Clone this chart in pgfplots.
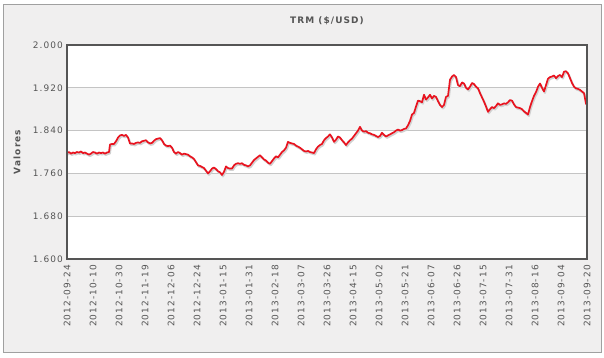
\documentclass[border=0pt]{standalone}
\usepackage{fontspec}
\setmainfont{DejaVu Sans}
\newfontfamily\lsfont[LetterSpace=12]{DejaVu Sans}
\usepackage{pgfplots}
\pgfplotsset{compat=1.18}
\definecolor{bgcol}{HTML}{F0EFEF}
\definecolor{bordercol}{HTML}{A0A0A0}
\definecolor{framecol}{HTML}{555555}
\definecolor{bandcol}{HTML}{F5F5F5}
\definecolor{gridcol}{HTML}{C4C4C4}
\definecolor{txtcol}{HTML}{555555}
\definecolor{linecol}{HTML}{E8131F}
\pgfplotstableread{
x y
0 1798
2 1800
4 1797
6 1799
8 1798
10 1800
12 1799
14 1801
16 1798
18 1799
20 1797
22 1795
24 1797
26 1800
28 1799
30 1797
32 1799
34 1798
36 1799
38 1797
40 1799
42 1800
43 1814
45 1815
47 1815
49 1820
51 1827
53 1831
55 1832
57 1830
59 1832
61 1827
63 1816
65 1816
67 1815
69 1817
71 1818
73 1817
75 1820
77 1821
79 1822
81 1818
83 1816
85 1817
87 1821
89 1824
91 1825
93 1826
95 1822
97 1815
99 1812
101 1811
103 1812
105 1808
107 1800
109 1797
111 1800
113 1798
115 1795
117 1797
119 1796
121 1795
123 1792
125 1790
127 1787
129 1781
131 1775
133 1774
135 1772
137 1770
139 1765
141 1760
143 1764
145 1769
147 1771
149 1768
151 1764
153 1762
155 1757
157 1763
159 1773
161 1770
163 1769
165 1769
167 1775
169 1778
171 1779
173 1778
175 1779
177 1776
179 1775
181 1773
183 1775
185 1780
187 1785
189 1788
191 1791
193 1794
195 1790
197 1786
199 1784
201 1780
203 1778
205 1783
207 1788
209 1792
211 1790
213 1795
215 1800
217 1803
219 1808
221 1819
223 1817
225 1816
227 1815
229 1812
231 1810
233 1808
235 1805
237 1802
239 1801
241 1802
243 1800
245 1799
247 1798
249 1805
251 1810
253 1813
255 1815
257 1822
259 1826
261 1829
263 1833
265 1827
267 1819
269 1823
271 1829
273 1827
275 1822
277 1818
279 1813
281 1818
283 1822
285 1825
287 1830
289 1835
291 1840
293 1847
295 1840
297 1838
299 1839
301 1836
303 1835
305 1833
307 1832
309 1830
311 1828
313 1830
315 1836
317 1832
319 1829
321 1831
323 1833
325 1835
327 1837
329 1840
331 1842
333 1840
335 1841
337 1843
339 1844
341 1850
343 1858
345 1870
347 1873
349 1885
351 1896
353 1895
355 1893
357 1907
359 1898
361 1902
363 1907
365 1900
367 1905
369 1903
371 1895
373 1888
375 1884
377 1888
379 1903
381 1905
383 1935
385 1941
387 1944
389 1940
391 1925
393 1923
395 1930
397 1928
399 1920
401 1917
403 1922
405 1929
407 1927
409 1922
411 1919
413 1910
415 1902
417 1894
419 1885
421 1875
423 1880
425 1884
427 1882
429 1886
431 1891
433 1888
435 1889
437 1891
439 1890
441 1893
443 1897
445 1896
447 1889
449 1884
451 1883
453 1882
455 1880
457 1876
459 1873
461 1870
463 1884
465 1895
467 1905
469 1912
471 1922
473 1928
475 1920
477 1913
479 1925
481 1937
483 1940
485 1941
487 1943
489 1938
491 1942
493 1944
495 1940
497 1950
499 1951
501 1947
503 1938
505 1929
507 1922
509 1919
511 1918
513 1916
515 1913
517 1910
519 1890
520 1889
}\trm
\begin{document}
\begin{tikzpicture}[x=1bp,y=1bp]
\fill[white] (0,0) rectangle (604,357);
\filldraw[fill=bgcol, draw=bordercol, line width=1bp] (3.5,4.5) rectangle (601.5,352.5);
\begin{axis}[
  at={(67bp,98bp)}, anchor=south west,
  scale only axis, width=520bp, height=214bp,
  xmin=0, xmax=520, ymin=1600, ymax=2000,
  axis on top,
  axis background/.style={fill=white},
  axis line style={draw=framecol, line width=2bp},
  xtick={0,26,...,520},
  xticklabels={2012-09-24,2012-10-10,2012-10-30,2012-11-19,2012-12-06,2012-12-24,2013-01-15,2013-01-31,2013-02-18,2013-03-07,2013-03-26,2013-04-15,2013-05-02,2013-05-21,2013-06-07,2013-06-26,2013-07-15,2013-07-31,2013-08-16,2013-09-04,2013-09-20},
  ytick={1600,1680,1760,1840,1920,2000},
  yticklabels={1.600,1.680,1.760,1.840,1.920,2.000},
  major tick length=0pt,
  tick style={draw=none},
  xticklabel shift=6bp,
  yticklabel shift=4bp,
  xticklabel style={rotate=90, anchor=east, font=\lsfont\fontsize{9}{10}\selectfont, text=txtcol, inner sep=0pt},
  yticklabel style={font=\lsfont\fontsize{9}{10}\selectfont, text=txtcol, inner sep=0pt},
  title={TRM (\$/USD)},
  title style={at={(0.5,1)}, anchor=center, yshift=18bp, font=\lsfont\bfseries\fontsize{9}{10}\selectfont, text=txtcol},
  ylabel={Valores},
  ylabel style={at={(axis description cs:0,0.5)}, anchor=center, yshift=50bp, font=\lsfont\bfseries\fontsize{9}{10}\selectfont, text=txtcol},
]
\fill[bandcol] (axis cs:0,1840) rectangle (axis cs:520,1920);
\fill[bandcol] (axis cs:0,1680) rectangle (axis cs:520,1760);
\foreach \g in {1680,1760,1840,1920}{
  \edef\tmp{\noexpand\draw[gridcol, line width=0.8bp] (axis cs:0,\g) -- (axis cs:520,\g);}\tmp
}
\addplot[black!18, line width=1.8bp, xshift=1bp, yshift=-1.5bp, line join=round] table[x=x,y=y]{\trm};
\addplot[linecol, line width=1.7bp, line join=round] table[x=x,y=y]{\trm};
\end{axis}
\end{tikzpicture}
\end{document}
